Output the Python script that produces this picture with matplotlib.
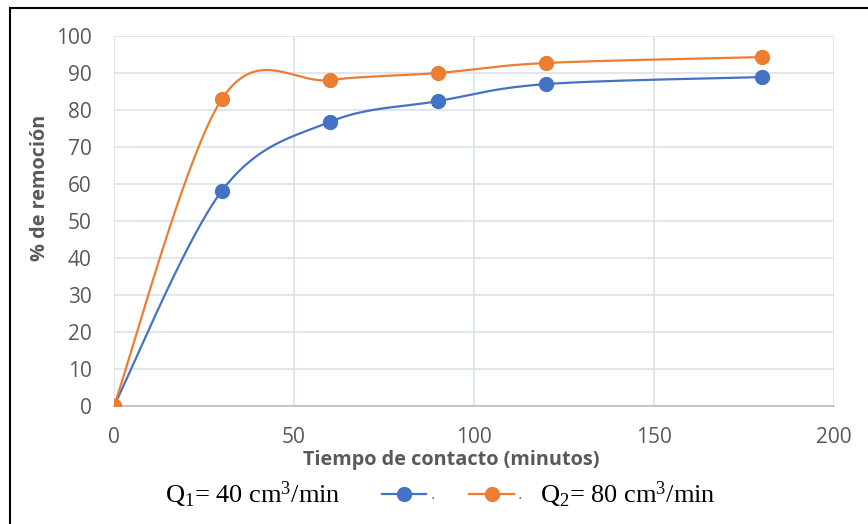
import numpy as np
import matplotlib.pyplot as plt
from matplotlib.lines import Line2D

# data
tiempo = [0, 30, 60, 90, 120, 180]
q1_remocion = [0, 58.2, 76.8, 82.4, 87.0, 88.9]
q2_remocion = [0, 83.0, 88.1, 90.0, 92.7, 94.3]

BLUE = '#4472C4'
ORANGE = '#ED7D31'
GRAY = '#595959'

plt.rcParams['mathtext.fontset'] = 'custom'
plt.rcParams['mathtext.rm'] = 'Liberation Serif'
plt.rcParams['mathtext.default'] = 'regular'


def smooth(x, y, n=40):
    # Excel style smoothed line (Catmull-Rom as cubic Bezier)
    x = np.asarray(x, float)
    y = np.asarray(y, float)
    px = np.concatenate([[x[0]], x, [x[-1]]])
    py = np.concatenate([[y[0]], y, [y[-1]]])
    t = np.linspace(0, 1, n)
    xs, ys = [], []
    for i in range(1, len(px) - 2):
        p0 = np.array([px[i - 1], py[i - 1]])
        p1 = np.array([px[i], py[i]])
        p2 = np.array([px[i + 1], py[i + 1]])
        p3 = np.array([px[i + 2], py[i + 2]])
        c1 = p1 + (p2 - p0) / 6
        c2 = p2 - (p3 - p1) / 6
        b = ((1 - t) ** 3)[:, None] * p1 + (3 * (1 - t) ** 2 * t)[:, None] * c1 \
            + (3 * (1 - t) * t ** 2)[:, None] * c2 + (t ** 3)[:, None] * p2
        xs.append(b[:, 0])
        ys.append(b[:, 1])
    return np.concatenate(xs), np.concatenate(ys)


fig = plt.figure(figsize=(8.68, 5.24), dpi=100)
ax = fig.add_axes([0.1313, 0.2252, 0.8295, 0.7061])

for yv, col in [(q1_remocion, BLUE), (q2_remocion, ORANGE)]:
    sx, sy = smooth(tiempo, yv)
    ax.plot(sx, sy, color=col, lw=1.6, zorder=3)
    ax.plot(tiempo, yv, 'o', color=col, ms=10, zorder=4)

ax.set_xlim(0, 200)
ax.set_ylim(0, 100)
ax.set_xticks(range(0, 201, 50))
ax.set_yticks(range(0, 101, 10))
ax.grid(True, color='#dde2ea', lw=1.2)
ax.set_axisbelow(True)
for s in ['top', 'right', 'left']:
    ax.spines[s].set_visible(False)
ax.spines['bottom'].set_color('#bfbfbf')
ax.spines['bottom'].set_linewidth(1.2)
ax.tick_params(length=0, labelsize=15, labelcolor=GRAY)
ax.tick_params(axis='y', pad=16)
ax.tick_params(axis='x', pad=15)
for lab in ax.get_xticklabels() + ax.get_yticklabels():
    lab.set_family('Open Sans')

ax.set_xlabel('Tiempo de contacto (minutos)', fontsize=14.3, fontweight='bold',
              color=GRAY, family='Open Sans')
ax.set_ylabel('% de remoción', fontsize=14.3, fontweight='bold',
              color=GRAY, family='Open Sans')
ax.xaxis.set_label_coords(0.469, -0.12)
ax.yaxis.set_label_coords(-0.089, 0.59)

# legend
handles = [Line2D([], [], color=BLUE, lw=1.6, marker='o', ms=10),
           Line2D([], [], color=ORANGE, lw=1.6, marker='o', ms=10)]
fig.legend(handles, ['.', '.'], loc='center', bbox_to_anchor=(0.5207, 0.055),
           ncol=2, frameon=False, fontsize=10, handlelength=3.2,
           columnspacing=2.5, handletextpad=0.3, labelcolor=GRAY)
fig.text(0.19, 0.055, 'Q$_1$= 40 cm$^3$/min', family='Liberation Serif',
         fontsize=19, va='center', ha='left')
fig.text(0.622, 0.055, 'Q$_2$= 80 cm$^3$/min', family='Liberation Serif',
         fontsize=19, va='center', ha='left')

# outer frame (only left and top edges are visible)
fig.add_artist(Line2D([0.0115, 0.0115], [0, 0.985], transform=fig.transFigure,
                      color='black', lw=1.5))
fig.add_artist(Line2D([0.0115, 1], [0.985, 0.985], transform=fig.transFigure,
                      color='black', lw=1.5))

plt.savefig('out.png', dpi=100)
